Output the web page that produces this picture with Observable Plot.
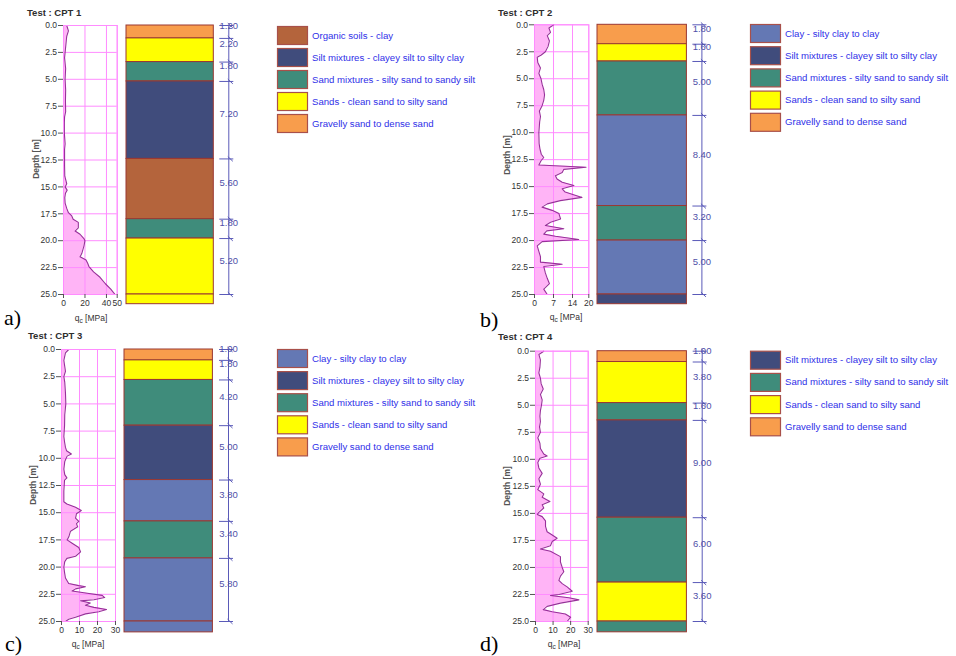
<!DOCTYPE html>
<html>
<head>
<meta charset="utf-8">
<script src="https://cdn.jsdelivr.net/npm/d3@7"></script>
<script src="https://cdn.jsdelivr.net/npm/@observablehq/plot@0.6"></script>
<style>
  html, body { margin: 0; padding: 0; background: #fff; }
  #root { position: relative; width: 956px; height: 656px; overflow: hidden; background: #fff; font-family: "Liberation Sans", Arial, sans-serif; }
  #root > svg, #root > .plotbox { position: absolute; }
</style>
</head>
<body>
<div id="root"></div>
<script>
// ---------------- DATA ----------------
const soilNames = [
  "Organic soils - clay",
  "Clay - silty clay to clay",
  "Silt mixtures - clayey silt to silty clay",
  "Sand mixtures - silty sand to sandy silt",
  "Sands - clean sand to silty sand",
  "Gravelly sand to dense sand"
];
const soilColors = ["#b4643c", "#6478b4", "#404c7c", "#3f8c7b", "#ffff00", "#f89d4c"];
const [ORG, CLAY, SILT, SANDMIX, SANDS, GRAV] = soilNames;

const depthTicks = [0, 2.5, 5, 7.5, 10, 12.5, 15, 17.5, 20, 22.5, 25];

// CPT 1
const cpt1Title = "Test : CPT 1";
const cpt1Depth = [0,0.5,1,2,3,4,5,6,7,8,8.5,9,10,11,11.5,12,13,14,14.7,15,15.3,15.6,16,16.5,17,17.4,17.7,18.0,18.3,18.8,19.1,19.4,19.8,20.0,20.5,21.2,21.5,21.8,22.1,22.4,22.9,23.4,24.0,24.5,25];
const cpt1Qc    = [3,4.6,3,2,1,2,1.5,2,1.8,2,1,0.8,0.8,1.5,1,1,1,1.2,3,1.5,3.4,1.8,1.2,1.5,3,4.6,7.7,9,13.8,13.8,10.8,15.4,19,20,19,17,15.4,21,22.5,23.7,28,34,39,44,48];
const cpt1QcTicks = [0, 20, 40, 50];
const cpt1QcMax = 50;
const cpt1LayerTop  = [0, 1.2, 3.4, 5.2, 12.4, 18.0, 19.8, 25.0];
const cpt1LayerSoil = [GRAV, SANDS, SANDMIX, SILT, ORG, SANDMIX, SANDS, SANDS];
const cpt1Base = 25.9;
const cpt1Legend = [ORG, SILT, SANDMIX, SANDS, GRAV];

// CPT 2
const cpt2Title = "Test : CPT 2";
const cpt2Depth = [0,0.3,0.7,1,1.5,2,2.5,2.8,3,3.5,4,4.5,5,5.5,6,6.5,7,7.5,8,8.5,9,10,11,11.5,12,12.3,12.6,13,13.2,13.4,13.7,14,14.3,14.6,14.9,15.2,15.5,16,16.3,16.6,16.9,17.2,17.5,18,18.3,18.6,18.9,19.1,19.4,19.6,19.9,20.1,20.5,21,21.5,22,22.2,22.4,23,23.5,24,24.5,25];
const cpt2Qc    = [7.1,5.3,5.9,4.7,5.5,5,4,2.5,1,1.2,2.2,1.6,2.4,2.8,3.4,3.7,3.4,2.8,1.8,2.2,1.9,1.6,1.7,2,2.5,3.4,2.4,1.6,19,10.8,10.2,7.7,8.3,10.2,14.5,10.2,11.3,17.5,9.5,4.7,2.8,6.5,9,9.6,5.9,4,10.8,4.5,3.4,7.7,16.3,2.8,1,1.6,2.2,2.2,10.2,3.4,4,4.7,5.5,3.4,4.7];
const cpt2QcTicks = [0, 7, 14, 20];
const cpt2QcMax = 20;
const cpt2LayerTop  = [0, 1.8, 3.4, 8.4, 16.8, 20.0, 25.0];
const cpt2LayerSoil = [GRAV, SANDS, SANDMIX, CLAY, SANDMIX, CLAY, SILT];
const cpt2Base = 25.9;
const cpt2Legend = [CLAY, SILT, SANDMIX, SANDS, GRAV];

// CPT 3
const cpt3Title = "Test : CPT 3";
const cpt3Depth = [0,0.3,1,2,2.5,3,4,5,6,7,8,8.5,9,9.3,9.6,9.8,10.3,11,11.5,11.8,12,13,14,14.2,14.5,14.8,15.1,15.5,15.8,16,16.3,16.7,17.2,17.5,17.8,18.2,18.6,19,19.2,19.5,20,20.5,21,21.5,21.7,21.8,22,22.2,22.4,22.6,22.8,23,23.1,23.3,23.5,23.7,23.9,24.1,24.3,24.6,24.8,25];
const cpt3Qc    = [4,2.2,1.3,2.2,1.3,1.8,2.2,2.4,1.8,1.7,1.3,1.7,2.2,2.8,5.5,3.1,1.8,1.3,1.8,3,1.7,1.3,1.3,3,7.8,11,8.3,7.8,9.6,8.3,9,5,4.1,3.1,5.9,9.6,10.6,7.8,3,1.8,1.3,1.7,2.2,4,9.6,13.3,7.8,5.9,14.3,22.6,24,18,10.6,16,13.3,18,25,20.7,13.3,7.8,4,2.2];
const cpt3QcTicks = [0, 10, 20, 30];
const cpt3QcMax = 30;
const cpt3LayerTop  = [0, 1.0, 2.8, 7.0, 12.0, 15.8, 19.2, 25.0];
const cpt3LayerSoil = [GRAV, SANDS, SANDMIX, SILT, CLAY, SANDMIX, CLAY, CLAY];
const cpt3Base = 26.0;
const cpt3Legend = [CLAY, SILT, SANDMIX, SANDS, GRAV];

// CPT 4
const cpt4Title = "Test : CPT 4";
const cpt4Depth = [0,0.3,0.8,1.5,2,2.5,3,3.5,4,4.5,5,5.5,6,6.5,7,7.5,8,8.5,9,9.5,9.7,9.9,10.3,10.8,11.3,11.8,12.3,12.8,13.2,13.5,13.9,14.2,14.5,14.9,15.1,15.3,15.7,16.2,16.7,17,17.3,17.6,18,18.3,18.5,19,19.5,20,20.4,20.8,21.2,21.5,21.8,22.2,22.5,22.6,22.8,23,23.3,23.6,23.9,24.1,24.3,24.6,25];
const cpt4Qc    = [4.7,1.9,2.8,2.5,1.9,2.8,3.2,4.4,2.8,3.8,3.4,2.8,2.5,2.8,2.3,2.8,1.3,2.5,2.8,4.7,6.6,2.5,1.3,1.9,3.8,1.9,2.8,1.3,4.7,3.8,8.2,3.8,4.7,1.9,1,3.8,5.7,5.7,6.6,9.5,12.3,9.5,8.5,2.8,8.5,14.2,14.2,15.2,16.1,14.2,13.3,15.2,18,20.9,13.3,8.5,19,24.7,14.2,6.6,4.4,9.5,17,20,18];
const cpt4QcTicks = [0, 10, 20, 30];
const cpt4QcMax = 30;
const cpt4LayerTop  = [0, 1.0, 4.8, 6.4, 15.4, 21.4, 25.0];
const cpt4LayerSoil = [GRAV, SANDS, SANDMIX, SILT, SANDMIX, SANDS, SANDMIX];
const cpt4Base = 26.0;
const cpt4Legend = [SILT, SANDMIX, SANDS, GRAV];

const panelTags = ["a)", "b)", "c)", "d)"];

// ---------------- LAYOUT (pixel positions) ----------------
const layouts = [
  {ox:0,   oy:0,   h:326, cptL:63,  cptR:116.7, top:25,    bot:294, colL:125.7, colR:213,   dimX:228,   legX:277, legY:26,    legDy:22.0, title:[27,15.5],  depthLab:[36,159],  qcLab:[91,321],  tag:[4,325]},
  {ox:480, oy:0,   h:326, cptL:534, cptR:588.3, top:24.3,  bot:294, colL:597.3, colR:686.7, dimX:701.7, legX:750, legY:24,    legDy:22.2, title:[498,15.5], depthLab:[507,155], qcLab:[566,320], tag:[480,327]},
  {ox:0,   oy:330, h:326, cptL:61,  cptR:115,   top:349,   bot:621, colL:124.3, colR:212.7, dimX:228.3, legX:277, legY:349,   legDy:22.1, title:[28,338.5], depthLab:[33,485],  qcLab:[88,647],  tag:[5,651]},
  {ox:480, oy:330, h:326, cptL:535, cptR:587.7, top:350.7, bot:621, colL:597.3, colR:686.7, dimX:702,   legX:750, legY:350.7, legDy:22.2, title:[498,339.5],depthLab:[507,486], qcLab:[564,647], tag:[480,651]}
];

const panels = [
  {title:cpt1Title, depth:cpt1Depth, qc:cpt1Qc, ticks:cpt1QcTicks, max:cpt1QcMax, tops:cpt1LayerTop, soils:cpt1LayerSoil, base:cpt1Base, legend:cpt1Legend},
  {title:cpt2Title, depth:cpt2Depth, qc:cpt2Qc, ticks:cpt2QcTicks, max:cpt2QcMax, tops:cpt2LayerTop, soils:cpt2LayerSoil, base:cpt2Base, legend:cpt2Legend},
  {title:cpt3Title, depth:cpt3Depth, qc:cpt3Qc, ticks:cpt3QcTicks, max:cpt3QcMax, tops:cpt3LayerTop, soils:cpt3LayerSoil, base:cpt3Base, legend:cpt3Legend},
  {title:cpt4Title, depth:cpt4Depth, qc:cpt4Qc, ticks:cpt4QcTicks, max:cpt4QcMax, tops:cpt4LayerTop, soils:cpt4LayerSoil, base:cpt4Base, legend:cpt4Legend}
];

const FONT = "'Liberation Sans', Arial, sans-serif";
const root = document.getElementById("root");

function place(el, left, top) {
  const box = document.createElement("div");
  box.className = "plotbox";
  box.style.left = left + "px";
  box.style.top = top + "px";
  box.appendChild(el);
  root.appendChild(box);
}

function cptPlot(P, L) {
  const data = P.depth.map((d, i) => ({d, q: P.qc[i]}));
  const left = L.ox;
  const W = Math.round(L.cptR - left + 6);
  const H = L.h;
  return Plot.plot({
    width: W, height: H,
    marginLeft: L.cptL - left,
    marginRight: W - (L.cptR - left),
    marginTop: L.top - L.oy,
    marginBottom: H - (L.bot - L.oy),
    style: {background: "transparent", fontFamily: FONT, fontSize: "8.5px", color: "#333", overflow: "visible"},
    x: {domain: [0, P.max], axis: null},
    y: {domain: [0, 25], reverse: true, axis: null},
    marks: [
      Plot.areaX(data, {x: "q", y: "d", fill: "#ffb4f6", curve: "linear"}),
      Plot.gridX(P.ticks, {stroke: "#ff8cff", strokeOpacity: 1, strokeWidth: 1}),
      Plot.gridY(depthTicks, {stroke: "#ff8cff", strokeOpacity: 1, strokeWidth: 1}),
      Plot.lineX(data, {x: "q", y: "d", stroke: "#98309a", strokeWidth: 1.1, curve: "linear"}),
      Plot.frame({stroke: "#ff8cff"}),
      Plot.axisX(P.ticks, {anchor: "bottom", tickSize: 4, tickPadding: 1.5, tickFormat: d => String(d), label: null, stroke: "#555"}),
      Plot.axisY(depthTicks, {anchor: "left", tickSize: 5, tickPadding: 1.5, tickFormat: d3.format(".1f"), label: null, stroke: "#555"})
    ]
  });
}

function columnPlot(P, L) {
  const bottoms = P.tops.slice(1).concat([P.base]);
  const layers = P.tops.map((t, i) => ({top: t, bottom: bottoms[i], soil: P.soils[i]}));
  const dimLayers = layers.filter(l => l.bottom <= 25);
  const bounds = [0].concat(dimLayers.map(l => l.bottom));
  const colW = L.colR - L.colL;
  const W = Math.round(L.dimX + 14 - L.colL);
  const H = L.h;
  const px = v => v / colW;            // pixel offset -> x units
  const dimF = (L.dimX - L.colL) / colW;
  const dimColor = "#5a5ab8";
  return Plot.plot({
    width: W, height: H,
    marginLeft: 0,
    marginRight: W - colW,
    marginTop: L.top - L.oy,
    marginBottom: H - (L.bot - L.oy),
    style: {background: "transparent", fontFamily: FONT, overflow: "visible"},
    x: {domain: [0, 1], axis: null},
    y: {domain: [0, 25], reverse: true, axis: null},
    color: {domain: soilNames, range: soilColors},
    marks: [
      Plot.rect(layers, {x1: 0, x2: 1, y1: "top", y2: "bottom", fill: "soil", stroke: "#9a3832", strokeWidth: 1}),
      Plot.ruleX([dimF], {y1: 0, y2: 25, stroke: dimColor, strokeWidth: 1}),
      Plot.ruleY(bounds, {x1: dimF - px(9), x2: dimF + px(5), stroke: dimColor, strokeWidth: 1}),
      Plot.link(bounds, {x1: dimF - px(1), x2: dimF + px(4), y1: d => d - 0.22, y2: d => d + 0.22, stroke: dimColor, strokeWidth: 1}),
      Plot.text(dimLayers, {x: dimF, y: d => (d.top + d.bottom) / 2, text: d => (d.bottom - d.top).toFixed(2), dy: -6, fill: "#5050a8", fontSize: 9.5, fontFamily: FONT})
    ]
  });
}

panels.forEach((P, k) => {
  const L = layouts[k];
  place(cptPlot(P, L), L.ox, L.oy);
  place(columnPlot(P, L), L.colL, L.oy);
});

// overlay svg for titles, axis labels, panel tags and legends
const overlay = d3.select(root).append("svg")
  .attr("width", 956).attr("height", 656)
  .style("left", "0px").style("top", "0px").style("z-index", 5).style("pointer-events", "none")
  .style("font-family", FONT);

panels.forEach((P, k) => {
  const L = layouts[k];
  overlay.append("text").attr("x", L.title[0]).attr("y", L.title[1])
    .attr("font-size", 9.5).attr("font-weight", "bold").attr("fill", "#2e2e2e").text(P.title);
  overlay.append("text").attr("transform", `translate(${L.depthLab[0]},${L.depthLab[1]}) rotate(-90)`)
    .attr("text-anchor", "middle").attr("dy", "0.35em").attr("font-size", 8.5).attr("font-weight", "bold").attr("fill", "#555").text("Depth [m]");
  const q = overlay.append("text").attr("x", L.qcLab[0]).attr("y", L.qcLab[1])
    .attr("text-anchor", "middle").attr("font-size", 8.5).attr("fill", "#333");
  q.append("tspan").text("q");
  q.append("tspan").attr("font-size", 6.5).attr("dy", 2).text("c");
  q.append("tspan").attr("dy", -2).text(" [MPa]");
  overlay.append("text").attr("x", L.tag[0]).attr("y", L.tag[1])
    .attr("font-family", "'Liberation Serif', 'Times New Roman', serif").attr("font-size", 22).attr("fill", "#000").text(panelTags[k]);
  P.legend.forEach((name, i) => {
    const y = L.legY + i * L.legDy;
    overlay.append("rect").attr("x", L.legX + 0.5).attr("y", y + 0.5).attr("width", 30).attr("height", 18)
      .attr("fill", soilColors[soilNames.indexOf(name)]).attr("stroke", "#a8504a").attr("stroke-width", 1.2);
    overlay.append("text").attr("x", L.legX + 35).attr("y", y + 12.5)
      .attr("font-size", 9.6).attr("fill", "#2f2fe8").text(name);
  });
});
</script>
</body>
</html>
